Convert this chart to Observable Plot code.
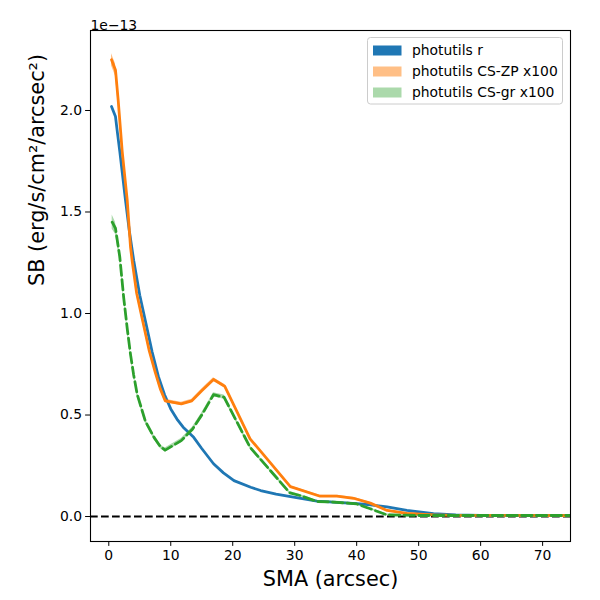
<!DOCTYPE html>
<html><head><meta charset="utf-8">
<script src="https://cdn.jsdelivr.net/npm/d3@7"></script>
<script src="https://cdn.jsdelivr.net/npm/@observablehq/plot@0.6"></script>
<style>body{margin:0;background:#fff;} svg{background:#fff;}</style>
</head><body><div id="chart"></div>
<script>
// Surface brightness in units of 1e-13 erg/s/cm^2/arcsec^2
const rSma = [0.44, 1.08, 1.4, 1.77, 2.69, 3.3, 4.03, 5.0, 6.0, 7.0, 8.0, 9.0, 10.0, 11.0, 12.0, 13.7, 15.0, 16.9, 18.5, 20.2, 22.9, 24.5, 27.0, 29.8, 33.6, 36.8, 40.0, 42.2, 44.9, 48.1, 52.4, 56.0, 60.0, 65.0, 70.0, 75.0];
const rSB  = [2.02, 1.97, 1.89, 1.80, 1.56, 1.41, 1.26, 1.09, 0.95, 0.81, 0.69, 0.60, 0.53, 0.48, 0.44, 0.39, 0.335, 0.26, 0.215, 0.177, 0.144, 0.128, 0.11, 0.095, 0.076, 0.07, 0.064, 0.058, 0.047, 0.03, 0.014, 0.008, 0.006, 0.005, 0.004, 0.004];

const zpSma = [0.44, 1.08, 1.52, 2.16, 2.97, 3.5, 3.77, 4.5, 5.5, 6.5, 7.5, 8.3, 9.1, 11.7, 13.4, 15.0, 16.9, 18.7, 22.8, 29.3, 34.1, 36.8, 39.5, 42.2, 44.9, 48.1, 52.4, 56.0, 75.0];
const zpSB  = [2.25, 2.20, 2.05, 1.80, 1.56, 1.33, 1.26, 1.10, 0.96, 0.82, 0.71, 0.63, 0.57, 0.555, 0.57, 0.62, 0.675, 0.642, 0.383, 0.147, 0.10, 0.10, 0.09, 0.066, 0.03, 0.016, 0.008, 0.006, 0.005];
const zpErr = [0.03, 0.03, 0.02, 0.015, 0.012, 0.01, 0.01, 0.01, 0.01, 0.008, 0.008, 0.008, 0.008, 0.008, 0.008, 0.008, 0.008, 0.008, 0.006, 0.005, 0.005, 0.005, 0.005, 0.004, 0.004, 0.003, 0.003, 0.003, 0.003];

const grSma = [0.55, 1.08, 1.77, 2.4, 3.0, 3.5, 4.0, 4.6, 5.9, 7.3, 8.3, 9.1, 11.7, 13.5, 15.0, 16.9, 18.6, 22.8, 29.2, 30.9, 33.6, 36.8, 40.0, 42.2, 44.9, 50.0, 75.0];
const grSB  = [1.45, 1.42, 1.28, 1.08, 0.92, 0.80, 0.70, 0.60, 0.47, 0.39, 0.345, 0.327, 0.374, 0.43, 0.50, 0.60, 0.588, 0.341, 0.117, 0.103, 0.074, 0.07, 0.062, 0.038, 0.008, 0.005, 0.005];
const grErr = [0.035, 0.03, 0.02, 0.015, 0.015, 0.012, 0.012, 0.012, 0.01, 0.01, 0.01, 0.01, 0.01, 0.01, 0.01, 0.01, 0.01, 0.008, 0.006, 0.006, 0.005, 0.005, 0.005, 0.004, 0.004, 0.003, 0.003];

const xTicks = [0, 10, 20, 30, 40, 50, 60, 70];
const yTicks = [0.0, 0.5, 1.0, 1.5, 2.0];

const legendLabels = ["photutils r", "photutils CS-ZP x100", "photutils CS-gr x100"];
const legendColors = ["#1f77b4", "#ff7f0e", "#2ca02c"];
const legendOpacity = [1, 0.5, 0.4];

const rows = (xs, ys, es) => xs.map((x, i) => ({x, y: ys[i], e: es ? es[i] : 0}));
const rData = rows(rSma, rSB);
const zpData = rows(zpSma, zpSB, zpErr);
const grData = rows(grSma, grSB, grErr);

const plot = Plot.plot({
  width: 600, height: 600,
  marginLeft: 90, marginRight: 30, marginTop: 30, marginBottom: 59,
  style: {fontFamily: "DejaVu Sans", fontSize: "13.9px", color: "black", background: "white"},
  x: {domain: [-2.95, 74.5]},
  y: {domain: [-0.123, 2.394]},
  marks: [
    Plot.axisX({ticks: xTicks, tickSize: 4.9, tickPadding: 3.5, label: null, fontSize: 13.9, tickFormat: d => String(d)}),
    Plot.axisY({ticks: yTicks, tickSize: 4.9, tickPadding: 3.5, label: null, fontSize: 13.9, tickFormat: d => d.toFixed(1)}),
    Plot.ruleY([0], {stroke: "black", strokeWidth: 2.08, strokeDasharray: "7.7,3.3", clip: true}),
    Plot.line(rData, {x: "x", y: "y", stroke: legendColors[0], strokeWidth: 2.78, strokeLinejoin: "round", clip: true}),
    Plot.areaY(zpData, {x: "x", y1: d => d.y - d.e, y2: d => d.y + d.e, fill: legendColors[1], fillOpacity: 0.5, clip: true}),
    Plot.line(zpData, {x: "x", y: "y", stroke: legendColors[1], strokeWidth: 2.78, strokeLinejoin: "round", clip: true}),
    Plot.areaY(grData, {x: "x", y1: d => d.y - d.e, y2: d => d.y + d.e, fill: legendColors[2], fillOpacity: 0.4, clip: true}),
    Plot.line(grData, {x: "x", y: "y", stroke: legendColors[2], strokeWidth: 2.78, strokeDasharray: "10.3,4.4", strokeLinejoin: "round", clip: true}),
    Plot.frame({stroke: "black", strokeWidth: 1.1}),
    Plot.text(["SMA (arcsec)"], {frameAnchor: "bottom", dy: 44, fontSize: 20.8, fill: "black"}),
    Plot.text(["SB (erg/s/cm²/arcsec²)"], {frameAnchor: "left", dx: -53, rotate: -90, fontSize: 20.8, fill: "black"}),
    Plot.text(["1e−13"], {frameAnchor: "top-left", textAnchor: "start", dy: -10, fontSize: 13.9, fill: "black"})
  ]
});
document.getElementById("chart").appendChild(plot);

// Legend
const svg = d3.select(plot);
const lg = svg.append("g").attr("text-anchor", "start");
lg.append("rect").attr("x", 367.5).attr("y", 37.5).attr("width", 195).attr("height", 66.5)
  .attr("rx", 3).attr("fill", "white").attr("fill-opacity", 0.8).attr("stroke", "#cccccc").attr("stroke-width", 1);
legendLabels.forEach((lab, i) => {
  const cy = 50.5 + i * 21;
  lg.append("rect").attr("x", 373).attr("y", cy - 5).attr("width", 28.5).attr("height", 10)
    .attr("fill", legendColors[i]).attr("fill-opacity", legendOpacity[i]);
  lg.append("text").attr("x", 412).attr("y", cy).attr("dy", "0.35em").attr("text-anchor", "start")
    .attr("font-family", "DejaVu Sans").attr("font-size", 13.9).attr("fill", "black").text(lab);
});
</script>
</body></html>
